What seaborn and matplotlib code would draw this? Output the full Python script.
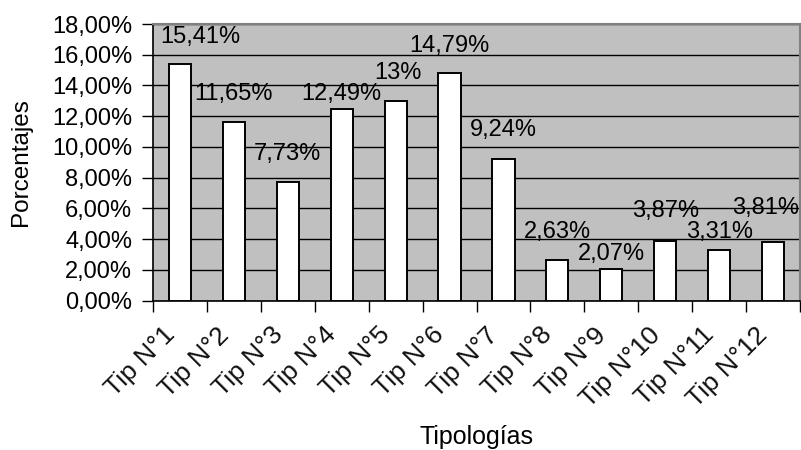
import matplotlib
matplotlib.use("Agg")
import matplotlib.pyplot as plt
import matplotlib.transforms as mtransforms
from matplotlib.ticker import FuncFormatter, FixedLocator
import seaborn as sns
import pandas as pd

categories = ["Tip N°1", "Tip N°2", "Tip N°3", "Tip N°4", "Tip N°5", "Tip N°6",
              "Tip N°7", "Tip N°8", "Tip N°9", "Tip N°10", "Tip N°11", "Tip N°12"]
values = [15.41, 11.65, 7.73, 12.49, 13.0, 14.79, 9.24, 2.63, 2.07, 3.87, 3.31, 3.81]
value_labels = ["15,41%", "11,65%", "7,73%", "12,49%", "13%", "14,79%",
                "9,24%", "2,63%", "2,07%", "3,87%", "3,31%", "3,81%"]
# label placement (data units) as seen in the reference
label_y = [17.15, 13.47, 9.56, 13.47, 14.83, 16.6, 11.12, 4.48, 3.04, 5.84, 4.48, 6.04]
label_dx = [0.37, 0, 0, 0, 0.05, 0, 0, 0, 0, 0, 0, -0.13]

sns.set_theme(style="white")
plt.rcParams["font.family"] = ["Liberation Sans", "DejaVu Sans"]

df = pd.DataFrame({"cat": categories, "val": values})

fig = plt.figure(figsize=(8.01, 4.5), dpi=100)
ax = fig.add_axes([153 / 801, (450 - 300.7) / 450, (800 - 153) / 801, (300.7 - 24) / 450])
ax.set_facecolor("#C0C0C0")

sns.barplot(data=df, x="cat", y="val", color="white", edgecolor="black",
            linewidth=1.4, width=0.41, ax=ax, saturation=1, zorder=3)

ax.set_xlim(-0.5, len(categories) - 0.5)
ax.set_ylim(0, 18)
ax.set_yticks(range(0, 19, 2))
ax.yaxis.set_major_formatter(FuncFormatter(lambda v, p: f"{v:.2f}".replace(".", ",") + "%"))
ax.grid(axis="y", color="black", linewidth=1.0, zorder=0)
ax.set_axisbelow(True)

for s in ["top", "right"]:
    ax.spines[s].set_color("#808080")
    ax.spines[s].set_linewidth(1.5)
for s in ["left", "bottom"]:
    ax.spines[s].set_color("black")
    ax.spines[s].set_linewidth(1.2)

ax.tick_params(axis="y", which="major", left=True, length=8, width=1, color="black",
               labelsize=17, pad=7, labelcolor="black")
ax.xaxis.set_minor_locator(FixedLocator([i - 0.5 for i in range(len(categories) + 1)]))
ax.tick_params(axis="x", which="minor", bottom=True, length=8, width=1, color="black")
ax.tick_params(axis="x", which="major", bottom=False, length=0, pad=22, labelsize=19,
               labelcolor="#111111")
ax.set_xticks(range(len(categories)))
ax.set_xticklabels(categories, rotation=45, ha="right", va="center", rotation_mode="anchor")
offset = mtransforms.ScaledTranslation(-9 / 100, 0, fig.dpi_scale_trans)
for lbl in ax.get_xticklabels():
    lbl.set_transform(lbl.get_transform() + offset)

for i, (txt, ly, dx) in enumerate(zip(value_labels, label_y, label_dx)):
    ax.text(i + dx, ly, txt, ha="center", va="center", fontsize=17, color="black",
            zorder=5, clip_on=False)

ax.set_xlabel("")
ax.set_ylabel("")
fig.text(21 / 801, 1 - 162 / 450, "Porcentajes", rotation=90, ha="center", va="center",
         fontsize=17.5, color="black")
fig.text(476 / 801, 1 - 437 / 450, "Tipologías", ha="center", va="center",
         fontsize=18, color="black")

fig.savefig("out.png", dpi=100)
